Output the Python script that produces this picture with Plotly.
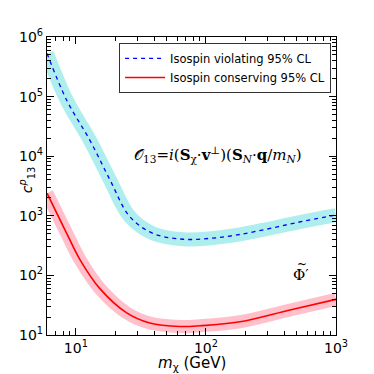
import plotly.graph_objects as go

# Isospin violating limit (blue dashed, cyan band)
mass_viol = [6, 8.5, 12.8, 18.3, 26, 39, 67, 110, 173, 296, 500, 1000]
c_viol = [5.3e5, 8.7e4, 1.86e4, 4000, 966, 508, 404, 420, 477, 600, 770, 1030]

# Isospin conserving limit (red solid, pink band)
mass_cons = [6, 8.5, 10.8, 15.3, 24.6, 37, 63, 90, 183, 443, 1000]
c_cons = [2400, 508, 181, 60, 23.5, 15.9, 13.9, 14.3, 16.7, 26.3, 39.7]

x_ticks = [10, 100, 1000]
x_labels = ['10<sup>1</sup>', '10<sup>2</sup>', '10<sup>3</sup>']
y_ticks = [10, 100, 1000, 1e4, 1e5, 1e6]
y_labels = ['10<sup>%d</sup>' % k for k in range(1, 7)]

font = "DejaVu Sans"


def minor_vals(lo, hi):
    out = []
    for e in range(lo, hi):
        out += [m * 10 ** e for m in range(2, 10)]
    return out


data = []
# bands drawn as wide pale lines under each limit
data.append(go.Scatter(x=mass_viol, y=c_viol, mode='lines', showlegend=False,
                       line=dict(color='#afeeee', width=14, shape='spline'), hoverinfo='skip'))
data.append(go.Scatter(x=mass_cons, y=c_cons, mode='lines', showlegend=False,
                       line=dict(color='#ffc0cb', width=13, shape='spline'), hoverinfo='skip'))
data.append(go.Scatter(x=mass_viol, y=c_viol, mode='lines', name='Isospin violating 95% CL',
                       line=dict(color='blue', width=1.3, dash='4px,4px', shape='spline')))
data.append(go.Scatter(x=mass_cons, y=c_cons, mode='lines', name='Isospin conserving 95% CL',
                       line=dict(color='red', width=1.6, shape='spline')))

axis = dict(type='log', showline=True, linecolor='black', linewidth=1.2, mirror='allticks',
            ticks='inside', ticklen=7, tickwidth=1, tickcolor='black',
            showgrid=False, zeroline=False, automargin=False,
            tickfont=dict(family=font, size=14, color='black'))

# the page body adds an 8px margin, so the figure is shifted up/left to compensate
layout = dict(
    width=358, height=366,
    margin=dict(l=39, r=30, t=29, b=39),
    plot_bgcolor='white', paper_bgcolor='white',
    font=dict(family=font, color='black'),
    xaxis=dict(axis, range=[0.778, 3], tickmode='array', tickvals=x_ticks, ticktext=x_labels,
               minor=dict(ticks='inside', ticklen=3.5, tickwidth=1, tickcolor='black',
                          showgrid=False, tickmode='array', tickvals=minor_vals(0, 3))),
    yaxis=dict(axis, range=[1, 6], tickmode='array', tickvals=y_ticks, ticktext=y_labels,
               minor=dict(ticks='inside', ticklen=3.5, tickwidth=1, tickcolor='black',
                          showgrid=False, tickmode='array', tickvals=minor_vals(1, 6))),
    legend=dict(x=0.983, y=0.98, xanchor='right', yanchor='top', bgcolor='white',
                bordercolor='#333', borderwidth=1, font=dict(size=11.5),
                tracegroupgap=0, itemwidth=40),
    annotations=[
        # axis titles
        dict(x=0.5, y=-0.095, xref='paper', yref='paper', showarrow=False, yanchor='middle',
             text='<i>m</i><sub>χ</sub> (GeV)', font=dict(size=15)),
        dict(x=-0.11, y=0.52, xref='paper', yref='paper', showarrow=False, textangle=-90,
             text='<i>c</i><sup><i>p</i></sup><sub>13</sub>', font=dict(size=14)),
        # operator label
        dict(x=0.59, y=0.605, xref='paper', yref='paper', showarrow=False,
             text='𝒪<sub>13</sub>=<i>i</i>(<b>S</b><sub>χ</sub>·<b>v</b><sup>⊥</sup>)(<b>S</b><sub><i>N</i></sub>·<b>q</b>/<i>m</i><sub><i>N</i></sub>)',
             font=dict(family='DejaVu Serif', size=15)),
        dict(x=0.915, y=0.2, xref='paper', yref='paper', showarrow=False, yanchor='middle',
             text='Φ′', font=dict(family='DejaVu Serif', size=15)),
        dict(x=0.907, y=0.237, xref='paper', yref='paper', showarrow=False, yanchor='middle',
             text='~', font=dict(family='DejaVu Serif', size=12)),
    ],
)

fig = go.Figure(data=data, layout=layout)
fig.write_html("out.html")
